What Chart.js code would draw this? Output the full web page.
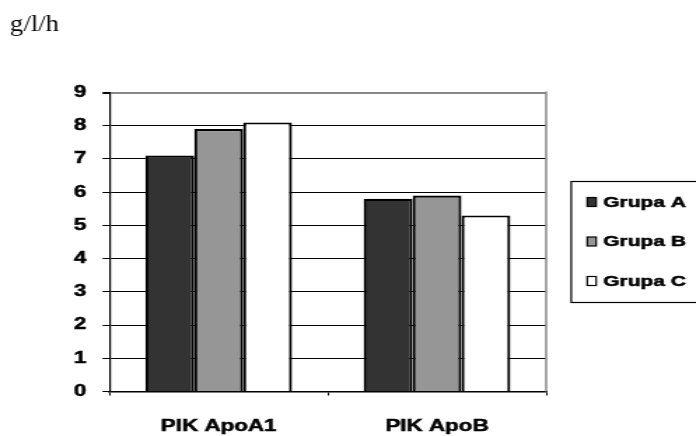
<!DOCTYPE html>
<html>
<head>
<meta charset="utf-8">
<script src="https://cdn.jsdelivr.net/npm/chart.js@4"></script>
<style>
  html, body { margin: 0; padding: 0; background: #fff; overflow: hidden; }
  /* the chart is laid out narrow and widened horizontally */
  #wrap { width: 497px; height: 436px; transform: scaleX(1.4004); transform-origin: 0 0; }
  canvas { display: block; }
</style>
</head>
<body>
<div id="wrap"><canvas id="c" width="497" height="436"></canvas></div>
<script>
const categories = ['PIK ApoA1', 'PIK ApoB'];
const seriesNames = ['Grupa A', 'Grupa B', 'Grupa C'];
const grupaA = [7.1, 5.8];
const grupaB = [7.9, 5.9];
const grupaC = [8.1, 5.3];
const yTicks = [0, 1, 2, 3, 4, 5, 6, 7, 8, 9];
const unitLabel = 'g/l/h';

const fills = ['#333333', '#969696', '#ffffff'];
const SANS = "'Liberation Sans', Arial, sans-serif";

Chart.defaults.font.family = SANS;
Chart.defaults.color = '#000';

// right plot border, unit label and boxed legend
const decor = {
  id: 'decor',
  afterDraw(chart) {
    const ctx = chart.ctx;
    const a = chart.chartArea;
    ctx.save();

    ctx.strokeStyle = '#888';
    ctx.lineWidth = 1.5;
    ctx.beginPath();
    ctx.moveTo(a.right, a.top - 1);
    ctx.lineTo(a.right, a.bottom);
    ctx.stroke();

    ctx.fillStyle = '#000';
    ctx.font = "23px 'Liberation Serif', 'Times New Roman', serif";
    ctx.textBaseline = 'alphabetic';
    ctx.save();
    ctx.translate(7.1, 30.5);
    ctx.scale(0.83, 1);
    ctx.fillText(unitLabel, 0, 0);
    ctx.restore();

    ctx.strokeStyle = '#000';
    ctx.lineWidth = 1.2;
    ctx.strokeRect(407.9, 181.5, 110, 121);

    const rows = [202, 241.5, 281];
    ctx.font = 'bold 15px ' + SANS;
    ctx.textBaseline = 'middle';
    chart.data.datasets.forEach((ds, i) => {
      const y = rows[i];
      ctx.fillStyle = ds.backgroundColor;
      ctx.fillRect(419.3, y - 4.5, 6.4, 9);
      ctx.strokeStyle = '#000';
      ctx.lineWidth = 1.2;
      ctx.strokeRect(419.3, y - 4.5, 6.4, 9);
      ctx.fillStyle = '#000';
      ctx.lineWidth = 0.5;
      ctx.strokeText(ds.label, 430.7, y + 0.5);
      ctx.fillText(ds.label, 430.7, y + 0.5);
    });
    ctx.restore();
  }
};

const seriesValues = [grupaA, grupaB, grupaC];

new Chart(document.getElementById('c'), {
  type: 'bar',
  data: {
    labels: categories,
    datasets: seriesNames.map((name, i) => ({
      label: name,
      data: seriesValues[i],
      backgroundColor: fills[i],
      borderColor: '#000',
      borderWidth: 2.2,
      barPercentage: 1,
      categoryPercentage: 0.672
    }))
  },
  options: {
    responsive: false,
    animation: false,
    layout: { padding: { top: 92.5, right: 107, left: 0, bottom: 0 } },
    plugins: { legend: { display: false }, tooltip: { enabled: false } },
    scales: {
      x: {
        grid: { drawOnChartArea: false, drawTicks: true, tickLength: 4, color: '#000', offset: true },
        border: { color: '#000', width: 1.5 },
        ticks: {
          font: { size: 16, weight: 'bold' }, padding: 21, maxRotation: 0,
          textStrokeColor: '#000', textStrokeWidth: 0.5
        },
        afterFit(scale) { scale.height = 44.5; }
      },
      y: {
        min: 0,
        max: 9,
        afterBuildTicks(scale) { scale.ticks = yTicks.map(v => ({ value: v })); },
        grid: {
          color: c => (c.tick && c.tick.value === 9 ? '#888' : '#000'),
          lineWidth: c => (c.tick && c.tick.value === 9 ? 2 : 1),
          tickColor: '#000',
          tickLength: 5
        },
        border: { color: '#000', width: 1.2 },
        ticks: {
          font: { size: 16, weight: 'bold' }, padding: 11.5,
          textStrokeColor: '#000', textStrokeWidth: 0.5
        },
        afterFit(scale) { scale.width = 78.2; }
      }
    }
  },
  plugins: [decor]
});
</script>
</body>
</html>
